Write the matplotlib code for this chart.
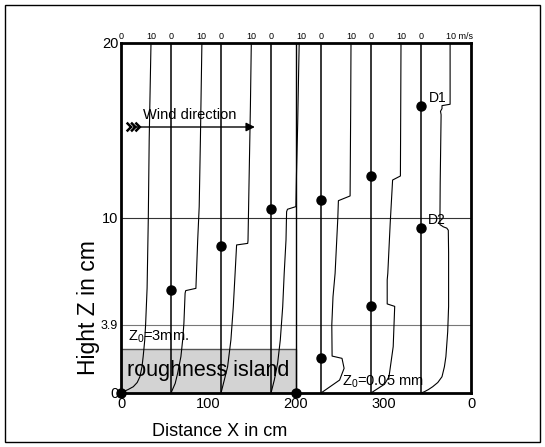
import matplotlib
matplotlib.use("Agg")
import matplotlib.pyplot as plt
from matplotlib.patches import Rectangle
import numpy as np

plt.rcParams['font.family'] = ['Liberation Sans', 'DejaVu Sans']
plt.rcParams['mathtext.fontset'] = 'custom'
plt.rcParams['mathtext.rm'] = 'Liberation Sans'
plt.rcParams['mathtext.it'] = 'Liberation Sans:italic'

# ---------------- data ----------------
x_max = 400.0
n_profiles = 7
profile_spacing = x_max / n_profiles          # cm between profile baselines
cm_per_ms = profile_spacing * 0.6 / 10.0      # horizontal cm per m/s

# velocity profiles: heights (cm) and speeds (m/s)
prof0_z = [0, 0.08, 0.2, 0.36, 0.6, 0.93, 1.5, 2.1, 3.0, 3.9, 6.0, 10.0, 14.5, 20.0]
prof0_u = [0, 0.8, 2.4, 4.1, 5.4, 6.3, 7.0, 7.4, 7.9, 8.2, 8.7, 9.1, 9.4, 10.0]

prof1_z = [0, 0.55, 1.12, 2.08, 3.05, 3.98, 5.7, 5.85, 5.98, 8.74, 10.65, 14.46, 20.0]
prof1_u = [0, 1.4, 2.2, 3.3, 3.9, 4.3, 4.7, 4.9, 8.3, 8.9, 9.4, 9.8, 10.3]

prof2_z = [0, 0.74, 1.5, 3.03, 4.93, 6.84, 8.46, 8.55, 8.7, 12.55, 16.36, 20.0]
prof2_u = [0, 1.1, 2.2, 3.3, 4.1, 4.7, 5.2, 8.9, 9.0, 9.4, 9.8, 10.1]

prof3_z = [0, 0.74, 1.69, 3.03, 4.93, 6.84, 8.74, 10.36, 10.5, 10.65, 12.55, 15.4, 18.27, 20.0]
prof3_u = [0, 1.1, 2.2, 3.1, 3.9, 4.4, 5.0, 5.2, 5.5, 8.3, 8.5, 8.9, 9.2, 9.4]

prof4_z = [0, 0.74, 1.41, 1.98, 2.11, 3.9, 5.5, 6.84, 9.98, 10.99, 11.26, 16.4, 20.0]
prof4_u = [0, 6.2, 7.7, 7.0, 3.7, 3.6, 4.0, 4.7, 5.6, 5.8, 9.7, 9.9, 10.0]

prof5_z = [0, 0.17, 0.5, 0.93, 2.65, 4.95, 5.09, 6.46, 6.84, 9.7, 12.17, 12.4, 16.0, 20.0]
prof5_u = [0, 1.5, 4.5, 6.0, 7.4, 7.9, 5.4, 5.4, 5.6, 6.4, 7.2, 9.8, 9.9, 10.0]

prof6_z = [0, 0.07, 0.2, 0.36, 0.6, 0.93, 1.5, 2.08, 3.5, 4.95, 8.0, 9.3, 9.42, 9.5,
           9.56, 9.62, 12.0, 15.9, 16.1, 16.25, 16.42, 16.5, 20.0]
prof6_u = [0, 1.1, 2.5, 3.9, 5.6, 7.0, 7.8, 8.3, 8.9, 9.2, 9.2, 9.1, 8.6, 7.4,
           6.9, 6.3, 6.4, 6.7, 6.5, 7.0, 7.0, 9.7, 9.7]

profiles_z = [prof0_z, prof1_z, prof2_z, prof3_z, prof4_z, prof5_z, prof6_z]
profiles_u = [prof0_u, prof1_u, prof2_u, prof3_u, prof4_u, prof5_u, prof6_u]

# measurement points on the baselines (profile index, height cm)
dot_profile = [0, 1, 2, 3, 4, 4, 5, 5, 6, 6]
dot_z = [0.0, 5.9, 8.4, 10.5, 11.0, 2.0, 12.4, 5.0, 16.4, 9.45]

island_x0, island_x1, island_top = 0.0, 200.0, 2.5
ref_heights = [10.0, 3.9]

x_ticks = [0, 100, 200, 300, 400]
x_ticklabels = ['0', '100', '200', '300', '0']
y_ticks = [0, 3.9, 10, 20]
y_ticklabels = ['0', '3.9', '10', '20']

# ---------------- figure ----------------
W, H = 545, 447
fig = plt.figure(figsize=(W / 100, H / 100), dpi=100)
ax = fig.add_axes([121 / W, (H - 393) / H, 350 / W, 350 / H])
ax.set_xlim(0, x_max)
ax.set_ylim(0, 20)

for s in ax.spines.values():
    s.set_linewidth(2.0)
    s.set_color('black')

# reference height lines
ax.axhline(ref_heights[0], color='#333333', lw=0.8, zorder=1)
ax.axhline(ref_heights[1], color='#777777', lw=0.8, zorder=1)

# roughness island
ax.add_patch(Rectangle((island_x0, 0), island_x1 - island_x0, island_top,
                       facecolor='#d3d3d3', edgecolor='#555555', lw=1.0, zorder=0.5))
ax.text(6.5, 1.3, 'roughness island', fontsize=15.5, va='center', ha='left', zorder=2)
ax.text(8, 3.2, r'Z$_\mathregular{0}$=3mm.', fontsize=10.5, va='center', ha='left', zorder=2)
ax.text(252, 0.65, r'Z$_\mathregular{0}$=0.05 mm', fontsize=10.5, va='center', ha='left', zorder=2)

# edge of island line
ax.plot([island_x1, island_x1], [0, 20], color='black', lw=1.0, zorder=3)

# profiles
for i in range(n_profiles):
    base = i * profile_spacing
    ax.plot([base, base], [0, 20], color='black', lw=1.1, zorder=3)
    xs = base + np.array(profiles_u[i]) * cm_per_ms
    ax.plot(xs, profiles_z[i], color='black', lw=0.8, zorder=3)

# dots
dot_x = [p * profile_spacing for p in dot_profile] + [island_x1]
dot_y = dot_z + [0.0]
ax.plot(dot_x, dot_y, 'o', color='black', ms=6.5, clip_on=False, zorder=5)

ax.text(352, 16.85, 'D1', fontsize=10, va='center', ha='left', zorder=4)
ax.text(351, 9.9, 'D2', fontsize=10, va='center', ha='left', zorder=4)

# wind direction arrow
wz = 15.2
ax.annotate('', xy=(153, wz), xytext=(14, wz),
            arrowprops=dict(arrowstyle='-|>', color='black', lw=1.0,
                            mutation_scale=13, shrinkA=0, shrinkB=0), zorder=4)
for tip in [11.5, 16.5, 21.5]:
    ax.plot([tip - 4, tip, tip - 4], [wz + 0.2, wz, wz - 0.2], color='black',
            lw=1.8, solid_joinstyle='miter', zorder=4)
ax.text(78.7, 15.9, 'Wind direction', fontsize=10.5, ha='center', va='center', zorder=4)

# top speed scale labels
for i in range(n_profiles):
    base = i * profile_spacing
    ax.annotate('0', xy=(base, 1), xycoords=('data', 'axes fraction'),
                xytext=(0, 1.5), textcoords='offset points', ha='center',
                va='bottom', fontsize=6.5, annotation_clip=False)
    lab = '10 m/s' if i == n_profiles - 1 else '10'
    ha = 'left' if i == n_profiles - 1 else 'center'
    off = -3.5 if i == n_profiles - 1 else 0
    ax.annotate(lab, xy=(base + 10 * cm_per_ms, 1), xycoords=('data', 'axes fraction'),
                xytext=(off, 1.5), textcoords='offset points', ha=ha,
                va='bottom', fontsize=6.5, annotation_clip=False)

# axes ticks
ax.set_xticks(x_ticks)
ax.set_xticklabels(x_ticklabels, fontsize=10.5)
ax.set_yticks(y_ticks)
ax.set_yticklabels(y_ticklabels, fontsize=10.5)
for lbl in ax.get_yticklabels():
    if lbl.get_text() == '3.9':
        lbl.set_fontsize(9)
ax.tick_params(axis='both', length=0, pad=2)
ax.tick_params(axis='x', pad=3)

fig.text(220 / W, (H - 432) / H, 'Distance X in cm', fontsize=13, ha='center', va='center')
fig.text(88 / W, (H - 308) / H, 'Hight Z in cm', fontsize=16.5, ha='center', va='center',
         rotation=90)

fig.patches.append(Rectangle((5 / W, 5 / H), 535 / W, 437 / H, transform=fig.transFigure,
                             fill=False, edgecolor='black', lw=1.0))

fig.savefig('out.png', dpi=100)
